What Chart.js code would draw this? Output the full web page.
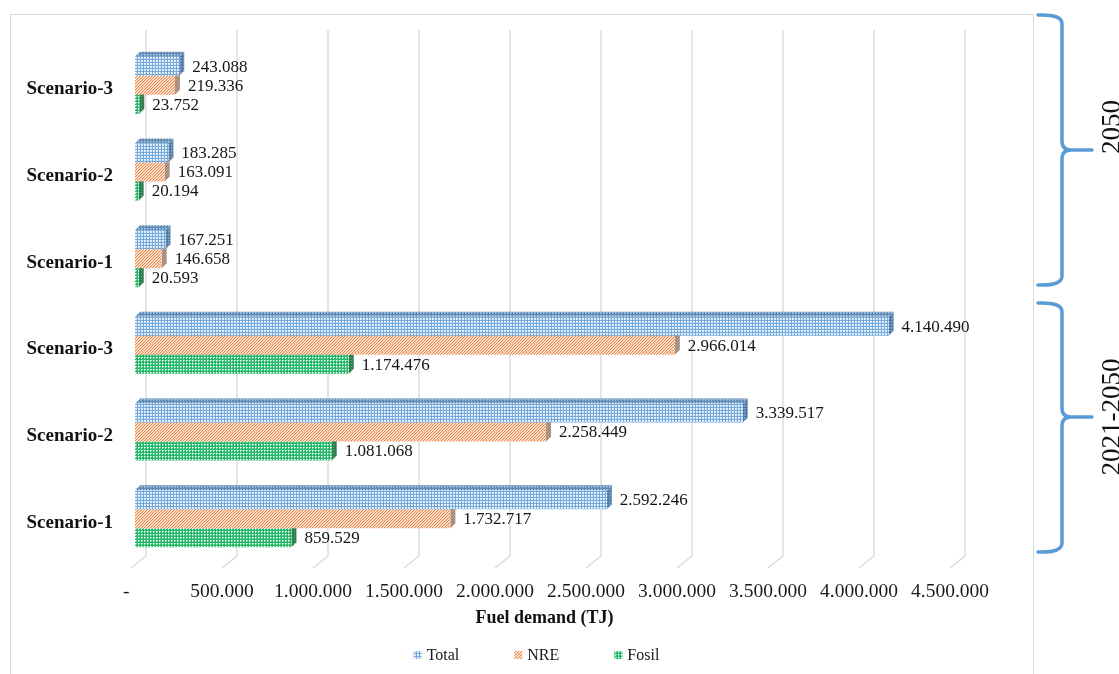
<!DOCTYPE html>
<html>
<head>
<meta charset="utf-8">
<script src="https://cdn.jsdelivr.net/npm/chart.js@4.4.1/dist/chart.umd.min.js"></script>
<style>
  html, body { margin: 0; padding: 0; background: #ffffff; }
  #wrap { width: 1119px; height: 674px; position: relative; }
</style>
</head>
<body>
<div id="wrap"><canvas id="c" width="1119" height="674"></canvas></div>
<script>
// Fuel demand per scenario, for the year 2050 and cumulated over 2021-2050 (TJ)
const categories = ['Scenario-3', 'Scenario-2', 'Scenario-1', 'Scenario-3', 'Scenario-2', 'Scenario-1'];
const totalValues = [243088, 183285, 167251, 4140490, 3339517, 2592246];
const nreValues   = [219336, 163091, 146658, 2966014, 2258449, 1732717];
const fosilValues = [23752, 20194, 20593, 1174476, 1081068, 859529];
const seriesNames = ['Total', 'NRE', 'Fosil'];
const xTicks = [0, 500000, 1000000, 1500000, 2000000, 2500000, 3000000, 3500000, 4000000, 4500000];
const periodLabels = ['2050', '2021-2050'];
const axisTitle = 'Fuel demand (TJ)';

const FONT = '"Liberation Serif", "Times New Roman", serif';

// thousands separated with dots, zero shown as an accounting dash
function fmt(v) {
  if (v === 0) return '-  ';
  return String(Math.round(v)).replace(/\B(?=(\d{3})+(?!\d))/g, '.');
}

// small repeating fills for the hatched bars
const patCtx = document.createElement('canvas').getContext('2d');
function tile(size, bg, layers) {
  const c = document.createElement('canvas');
  c.width = size; c.height = size;
  const g = c.getContext('2d');
  g.fillStyle = bg; g.fillRect(0, 0, size, size);
  layers.forEach(([color, test]) => {
    g.fillStyle = color;
    for (let y = 0; y < size; y++)
      for (let x = 0; x < size; x++)
        if (test(x, y)) g.fillRect(x, y, 1, 1);
  });
  return patCtx.createPattern(c, 'repeat');
}
const mesh = (x, y) => x < 2 && y < 2;
const dot = (x, y) => x === 0 && y === 0;
const smallMesh = (x, y) => (x === 0 && y === 0) || (x === 1 && y === 0) || (x === 0 && y === 1);

const fills = {
  Total: {
    front: tile(3, '#73a9dc', [['#d8e8f7', mesh], ['#ffffff', dot]]),
    side:  tile(3, '#4f7ba4', [['#7aa0c4', smallMesh]]),
    top:   tile(3, '#5f8ab3', [['#9fbddb', smallMesh]])
  },
  NRE: {
    front: tile(3, '#fdf3ec', [['#ee8848', (x, y) => (x + y) % 3 === 2], ['#f6c4a2', (x, y) => (x + y) % 3 === 0]]),
    side:  tile(3, '#a08878', [['#bea796', (x, y) => (x + y) % 3 === 0]]),
    top:   tile(3, '#d99a70', [['#f3c9a9', (x, y) => (x + y) % 3 === 0]])
  },
  Fosil: {
    front: tile(3, '#26b86a', [['#a9e6c2', smallMesh], ['#ffffff', dot]]),
    side:  tile(3, '#2f8050', [['#5aa77a', dot]]),
    top:   tile(3, '#1f9a55', [['#7fd0a0', dot]])
  }
};

const seriesData = [totalValues, nreValues, fosilValues];
const datasets = seriesNames.map((name, i) => ({
  label: name,
  data: seriesData[i],
  backgroundColor: fills[name].front,
  borderWidth: 0
}));

const DEPTH = 5;      // bar depth offset (right / up)
const WALL_DX = 11;   // back wall offset from the front plane
const FLOOR_DX = -4;  // floor front edge offset
const FLOOR_DY = 12;

// back wall grid + bar side/top faces, drawn underneath the bar fronts
const depthPlugin = {
  id: 'depthPlugin',
  beforeDraw(chart) {
    const ctx = chart.ctx;
    ctx.save();
    ctx.strokeStyle = '#d9d9d9';
    ctx.lineWidth = 1;
    ctx.strokeRect(10.5, 14.5, 1023, 700);
    ctx.restore();
  },
  beforeDatasetsDraw(chart) {
    const ctx = chart.ctx;
    const xs = chart.scales.x;
    const area = chart.chartArea;
    const wallTop = area.top - FLOOR_DY;
    const wallBottom = area.bottom - 6;
    ctx.save();
    ctx.strokeStyle = '#d9d9d9';
    ctx.lineWidth = 1.3;
    xTicks.forEach(v => {
      const xf = xs.getPixelForValue(v);
      ctx.beginPath();
      ctx.moveTo(xf + WALL_DX, wallTop);
      ctx.lineTo(xf + WALL_DX, wallBottom);
      ctx.lineTo(xf + FLOOR_DX, wallBottom + FLOOR_DY);
      ctx.stroke();
    });
    ctx.restore();

    ctx.save();
    chart.data.datasets.forEach((ds, di) => {
      const meta = chart.getDatasetMeta(di);
      const f = fills[ds.label];
      meta.data.forEach(bar => {
        const top = bar.y - bar.height / 2;
        const bottom = bar.y + bar.height / 2;
        const x0 = bar.base, x1 = bar.x;
        // right side face
        ctx.fillStyle = f.side;
        ctx.beginPath();
        ctx.moveTo(x1, top);
        ctx.lineTo(x1 + DEPTH, top - DEPTH);
        ctx.lineTo(x1 + DEPTH, bottom - DEPTH);
        ctx.lineTo(x1, bottom);
        ctx.closePath();
        ctx.fill();
        // top face
        ctx.fillStyle = f.top;
        ctx.beginPath();
        ctx.moveTo(x0, top);
        ctx.lineTo(x0 + DEPTH, top - DEPTH);
        ctx.lineTo(x1 + DEPTH, top - DEPTH);
        ctx.lineTo(x1, top);
        ctx.closePath();
        ctx.fill();
      });
    });
    ctx.restore();
  },
  afterDatasetsDraw(chart) {
    const ctx = chart.ctx;
    ctx.save();
    ctx.font = '17px ' + FONT;
    ctx.fillStyle = '#151515';
    ctx.textAlign = 'left';
    ctx.textBaseline = 'middle';
    chart.data.datasets.forEach((ds, di) => {
      const meta = chart.getDatasetMeta(di);
      meta.data.forEach((bar, i) => {
        ctx.fillText(fmt(ds.data[i]), bar.x + 13, bar.y + 1);
      });
    });
    ctx.restore();
  },
  afterDraw(chart) {
    const ctx = chart.ctx;
    // legend
    ctx.save();
    ctx.font = '16px ' + FONT;
    ctx.textBaseline = 'middle';
    const box = 8, gapBox = 5, gapItem = 55;
    const widths = chart.data.datasets.map(ds => box + gapBox + ctx.measureText(ds.label).width);
    const total = widths.reduce((a, b) => a + b, 0) + gapItem * (widths.length - 1);
    let lx = 536.5 - total / 2;
    const ly = 655;
    chart.data.datasets.forEach((ds, i) => {
      ctx.fillStyle = ds.backgroundColor;
      ctx.fillRect(lx, ly - box / 2, box, box);
      ctx.fillStyle = '#1a1a1a';
      ctx.fillText(ds.label, lx + box + gapBox, ly + 1);
      lx += widths[i] + gapItem;
    });
    ctx.restore();

    // period braces
    const braces = [
      { top: 15, bottom: 285, tip: 150, text: periodLabels[0], textY: 127 },
      { top: 303, bottom: 552, tip: 417, text: periodLabels[1], textY: 417 }
    ];
    const xe = 1038, xm = 1062, xt = 1092, r = 9;
    ctx.save();
    ctx.strokeStyle = '#5b9bd5';
    ctx.lineWidth = 3.5;
    ctx.lineCap = 'round';
    braces.forEach(b => {
      ctx.beginPath();
      ctx.moveTo(xe, b.top);
      ctx.quadraticCurveTo(xm, b.top - 1, xm, b.top + r);
      ctx.lineTo(xm, b.tip - r);
      ctx.quadraticCurveTo(xm, b.tip, xm + r, b.tip);
      ctx.lineTo(xt, b.tip);
      ctx.moveTo(xm + r, b.tip);
      ctx.quadraticCurveTo(xm, b.tip, xm, b.tip + r);
      ctx.lineTo(xm, b.bottom - r);
      ctx.quadraticCurveTo(xm, b.bottom + 1, xe, b.bottom);
      ctx.stroke();
    });
    ctx.restore();

    ctx.save();
    ctx.font = '27px ' + FONT;
    ctx.fillStyle = '#111111';
    ctx.textAlign = 'center';
    ctx.textBaseline = 'alphabetic';
    braces.forEach(b => {
      ctx.save();
      ctx.translate(1120, b.textY);
      ctx.rotate(-Math.PI / 2);
      ctx.fillText(b.text, 0, 0);
      ctx.restore();
    });
    ctx.restore();
  }
};

const chart = new Chart(document.getElementById('c').getContext('2d'), {
  type: 'bar',
  data: { labels: categories, datasets },
  options: {
    indexAxis: 'y',
    responsive: false,
    animation: false,
    devicePixelRatio: 1,
    layout: { padding: { left: 0, right: 165, top: 42, bottom: 41 } },
    datasets: { bar: { categoryPercentage: 0.658, barPercentage: 1 } },
    plugins: { legend: { display: false }, tooltip: { enabled: false } },
    scales: {
      x: {
        min: 0,
        max: 4500000,
        afterBuildTicks: s => { s.ticks = xTicks.map(v => ({ value: v })); },
        afterFit: s => { s.height = 71; },
        grid: { display: false, drawTicks: false },
        border: { display: false },
        ticks: {
          padding: 18,
          labelOffset: -4,
          maxRotation: 0,
          autoSkip: false,
          color: '#1a1a1a',
          font: { family: FONT, size: 19.5 },
          callback: v => fmt(v)
        },
        title: {
          display: true,
          text: axisTitle,
          color: '#111111',
          font: { family: FONT, size: 18, weight: 'bold' },
          padding: { top: 6, bottom: 4 }
        }
      },
      y: {
        grid: { display: false, drawTicks: false },
        border: { display: false },
        afterFit: s => { s.width = 135; },
        ticks: {
          padding: 22,
          labelOffset: 4,
          color: '#111111',
          font: { family: FONT, size: 19, weight: 'bold' }
        }
      }
    }
  },
  plugins: [depthPlugin]
});
</script>
</body>
</html>
